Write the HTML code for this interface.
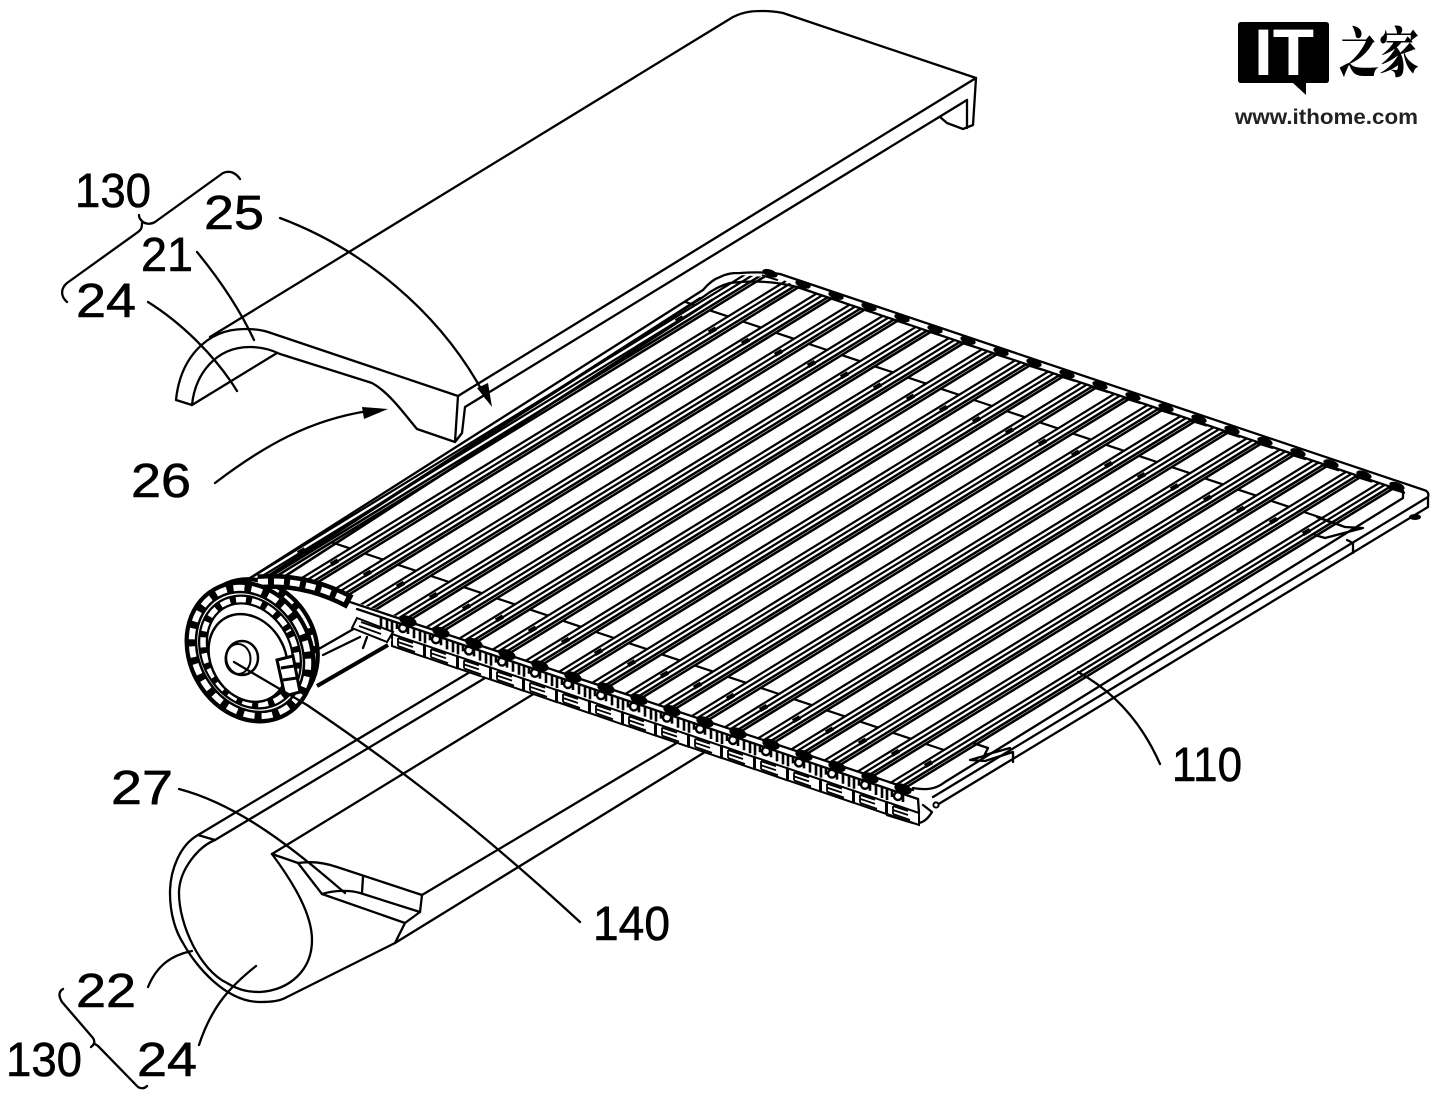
<!DOCTYPE html>
<html><head><meta charset="utf-8"><style>
html,body{margin:0;padding:0;background:#fff}
svg{display:block}
.l{fill:none;stroke:#000;stroke-width:2.3;stroke-linejoin:round;stroke-linecap:round}
.t{font-family:"Liberation Sans",sans-serif;font-size:48px;fill:#000;stroke:#000;stroke-width:.6}
</style></head><body>
<svg width="1440" height="1100" viewBox="0 0 1440 1100" xmlns="http://www.w3.org/2000/svg">
<defs>
<clipPath id="pc"><polygon points="250,578 703,290 720,278 740,275 780,278 797,287 1400,490 906,789 287,579"/></clipPath>
<g id="s">
<path d="M880.25,789.13L1408.25,465.13" fill="none" stroke="#000" stroke-width="2.2"/>
<path d="M882.6,792.96L1410.6,468.96" fill="none" stroke="#000" stroke-width="2.2"/>
<path d="M884.95,796.8L1412.95,472.8" fill="none" stroke="#000" stroke-width="2.5"/>
<path d="M886.5,799.35L1414.5,475.35" fill="none" stroke="#000" stroke-width="2.5"/>
<path d="M1304,512L1322,518M926,744L944,750" fill="none" stroke="#000" stroke-width="2.2"/>
<path d="M1303,534L1310,530M925,766L932,762" fill="none" stroke="#000" stroke-width="4.5"/>
</g>
<g id="n">
<ellipse cx="1397" cy="486" rx="8" ry="3.6" transform="rotate(19 1397 486)" fill="#000"/>
<path d="M1389,488L1405,493" stroke="#000" stroke-width="2" fill="none"/>
</g>
<g id="m">
<ellipse cx="903" cy="789" rx="9" ry="5" transform="rotate(19 903 789)" fill="#000"/>
<polygon points="887,802 919,813 919,825 887,814" fill="#fff" stroke="#000" stroke-width="2"/>
<path d="M893,806L908,811M893,806L893,814M893,810L908,815M893,814L910,820" fill="none" stroke="#000" stroke-width="1.8"/>
<circle cx="898" cy="796" r="4" fill="none" stroke="#000" stroke-width="2.4"/>
<path d="M903,790V802M882,787V798M887,789V800M876,785V795M892,790V797" fill="none" stroke="#000" stroke-width="2.6"/>
</g>
</defs>
<rect width="1440" height="1100" fill="#fff"/>

<!-- lower tube -->
<g class="l">
<path d="M475,669L198,835C180,845 170,870 170,893C170,915 176,932 183,943C195,965 225,1002 260,1002C272,1002 280,1001 287,997L395,943L705,752"/>
<path d="M490,675L215,840C198,847 179,870 179,893C179,925 200,970 227,983C240,991 250,992 260,992C290,990 312,970 312,940C312,915 295,885 272,854"/>
<path d="M198,835L215,840"/>
<path d="M272,854L540,690"/>
<path d="M272,854L298,863C305,862 320,861 337,867L422,895L420,912L405,923L395,943"/>
<path d="M298,863L322,894L405,923"/>
<path d="M322,894C335,890 350,890 360,893L420,912"/>
<path d="M363,877L362,893"/>
<path d="M422,895L690,735"/>
</g>

<!-- upper cover -->
<g class="l">
<path d="M176,400C180,360 205,329 245,329C255,329 262,330 268,332L458,396L455,442L417,429C405,415 390,393 372,383L280,354C272,350 262,347 250,347C215,347 195,375 192,405L176,400"/>
<path d="M192,405L277,353"/>
<path d="M210,337L733,17C745,11 755,11 763,11C772,11 778,12 783,13L976,78L973,125L963,129L947,123L940,117"/>
<path d="M976,78L458,396"/>
<path d="M967,100L465,407L462,433L455,442"/>
<path d="M967,100L967,128"/>
</g>

<!-- panel background -->
<polygon points="250,578 703,290 720,277 740,273 780,274 1428,492 1428,507 937,805 925,822 913,823 393,647 315,690 240,640" fill="#fff"/>

<!-- slats -->
<g clip-path="url(#pc)">
<use href="#s"/>
<use href="#s" transform="translate(-33,-11.2)"/>
<use href="#s" transform="translate(-66,-22.4)"/>
<use href="#s" transform="translate(-99,-33.6)"/>
<use href="#s" transform="translate(-132,-44.8)"/>
<use href="#s" transform="translate(-165,-56)"/>
<use href="#s" transform="translate(-198,-67.2)"/>
<use href="#s" transform="translate(-231,-78.4)"/>
<use href="#s" transform="translate(-264,-89.6)"/>
<use href="#s" transform="translate(-297,-100.8)"/>
<use href="#s" transform="translate(-330,-112)"/>
<use href="#s" transform="translate(-363,-123.2)"/>
<use href="#s" transform="translate(-396,-134.4)"/>
<use href="#s" transform="translate(-429,-145.6)"/>
<use href="#s" transform="translate(-462,-156.8)"/>
<use href="#s" transform="translate(-495,-168)"/>
<use href="#s" transform="translate(-528,-179.2)"/>
<use href="#s" transform="translate(-561,-190.4)"/>
<use href="#s" transform="translate(-594,-201.6)"/>
<use href="#s" transform="translate(-627,-212.8)"/>
</g>

<!-- back rail and left edge -->
<g class="l">
<path d="M250,578L703,290C708,284 714,279 720,277C728,273 734,273 740,273C755,272 768,272 780,274L1424,490C1428,491 1429,494 1428,497L1428,507L937,805"/>
<path d="M268,577L703,297C712,290 722,285 730,283C745,281 770,280 797,287L1403,491"/>
<path d="M258,582L700,298" stroke-width="2"/>
<path d="M276,582L712,300" stroke-width="2.6"/>
<path d="M1403,491L1403,498L945,782C935,790 925,790 913,788"/>
<path d="M933,797L1428,497"/>
</g>
<use href="#n"/>
<use href="#n" transform="translate(-33,-11.2)"/>
<use href="#n" transform="translate(-66,-22.4)"/>
<use href="#n" transform="translate(-99,-33.6)"/>
<use href="#n" transform="translate(-132,-44.8)"/>
<use href="#n" transform="translate(-165,-56)"/>
<use href="#n" transform="translate(-198,-67.2)"/>
<use href="#n" transform="translate(-231,-78.4)"/>
<use href="#n" transform="translate(-264,-89.6)"/>
<use href="#n" transform="translate(-297,-100.8)"/>
<use href="#n" transform="translate(-330,-112)"/>
<use href="#n" transform="translate(-363,-123.2)"/>
<use href="#n" transform="translate(-396,-134.4)"/>
<use href="#n" transform="translate(-429,-145.6)"/>
<use href="#n" transform="translate(-462,-156.8)"/>
<use href="#n" transform="translate(-495,-168)"/>
<use href="#n" transform="translate(-528,-179.2)"/>
<use href="#n" transform="translate(-561,-190.4)"/>
<use href="#n" transform="translate(-594,-201.6)"/>
<use href="#n" transform="translate(-627,-212.8)"/>

<!-- side joints -->
<g class="l" stroke-width="2">
<path d="M973,743L988,748L984,756L970,760L985,761L1013,752L1013,762"/>
<path d="M985,755L1010,748"/>
<path d="M1315,535L1325,538L1363,528L1345,527L1317,517L1330,522"/>
<path d="M1347,540L1353,543L1353,553"/>
</g>
<ellipse cx="1415" cy="517" rx="6" ry="3" fill="#000"/>

<!-- front rail -->
<g class="l"><path d="M287,581L913,790"/><path d="M357,609L918,799"/><path d="M918,799L919,813"/>
<path d="M887,815L913,823C920,824 926,822 932,812L923,805"/></g>
<use href="#m"/>
<use href="#m" transform="translate(-33,-11.2)"/>
<use href="#m" transform="translate(-66,-22.4)"/>
<use href="#m" transform="translate(-99,-33.6)"/>
<use href="#m" transform="translate(-132,-44.8)"/>
<use href="#m" transform="translate(-165,-56)"/>
<use href="#m" transform="translate(-198,-67.2)"/>
<use href="#m" transform="translate(-231,-78.4)"/>
<use href="#m" transform="translate(-264,-89.6)"/>
<use href="#m" transform="translate(-297,-100.8)"/>
<use href="#m" transform="translate(-330,-112)"/>
<use href="#m" transform="translate(-363,-123.2)"/>
<use href="#m" transform="translate(-396,-134.4)"/>
<use href="#m" transform="translate(-429,-145.6)"/>
<use href="#m" transform="translate(-462,-156.8)"/>
<use href="#m" transform="translate(-495,-168)"/>
<circle cx="936" cy="805" r="2.6" fill="#fff" stroke="#000" stroke-width="2"/>

<!-- roll interior -->
<polygon points="310,600 360,615 392,640 316,690" fill="#fff"/>
<path d="M317,686L388,645" stroke="#000" stroke-width="4" fill="none"/>
<path class="l" d="M317,650L357,627M323,655L360,637M363,648L367,637"/>
<polygon points="357,618 393,632 387,642 352,628" fill="#fff" stroke="#000" stroke-width="2"/>
<path d="M361,622L381,629M359,626L381,634" stroke="#000" stroke-width="1.8" fill="none"/>

<!-- roll rings -->
<g transform="translate(256,646) rotate(-30)">
<ellipse rx="60" ry="70" fill="#fff" stroke="#000" stroke-width="2.5"/>
<ellipse rx="54" ry="64" fill="none" stroke="#000" stroke-width="11"/>
<ellipse rx="54" ry="64" fill="none" stroke="#fff" stroke-width="6" stroke-dasharray="11 7"/>
</g>
<path d="M258,582Q305,578 350,602" fill="none" stroke="#000" stroke-width="15"/>
<path d="M258,582Q305,578 350,602" fill="none" stroke="#fff" stroke-width="6" stroke-dasharray="10 6"/>
<g transform="translate(250,652) rotate(-30)">
<ellipse rx="61" ry="73" fill="#fff" stroke="#000" stroke-width="2.5"/>
<ellipse rx="55" ry="67" fill="none" stroke="#000" stroke-width="11"/>
<ellipse rx="55" ry="67" fill="none" stroke="#fff" stroke-width="6" stroke-dasharray="11 7"/>
<ellipse rx="44" ry="55" fill="none" stroke="#000" stroke-width="10"/>
<ellipse rx="44" ry="55" fill="none" stroke="#fff" stroke-width="5.5" stroke-dasharray="10 6" stroke-dashoffset="8"/>
</g>
<ellipse cx="248" cy="658" rx="37" ry="46" transform="rotate(-30 248 658)" fill="#fff" stroke="#000" stroke-width="2.5"/>
<path d="M277,660L293,656L300,692L285,696Z" fill="#fff" stroke="#000" stroke-width="3"/>
<path d="M281,668L294,666M283,680L297,678" stroke="#000" stroke-width="3" fill="none"/>
<ellipse cx="242" cy="658" rx="16" ry="17" fill="#fff" stroke="#000" stroke-width="2.5"/>
<ellipse cx="238" cy="659" rx="12.5" ry="15" fill="none" stroke="#000" stroke-width="2"/>

<!-- leaders -->
<g class="l">
<path d="M234,662L307,705C400,768 480,830 580,922"/>
<path d="M280,218C360,248 440,310 486,398"/>
<path d="M197,252C220,280 240,310 254,340"/>
<path d="M148,302C180,322 215,355 237,391"/>
<path d="M215,483C265,445 310,420 368,411"/>
<path d="M179,789C240,805 295,850 345,893"/>
<path d="M148,987C157,965 172,955 192,951"/>
<path d="M199,1045C212,1005 232,985 256,966"/>
<path d="M1078,672C1120,695 1145,730 1160,764"/>
<path d="M240,179C236,173 230,170 223,173L155,222C150,225 144,224 141,220C139,218 139,216 139,215M142,223C142,228 141,230 138,232L67,283C61,288 60,296 67,302"/>
<path d="M63,989C58,992 59,997 62,1002L93,1038C95,1041 95,1044 91,1047M95,1044C96,1045 97,1045 98,1046L137,1086C140,1089 144,1089 147,1086"/>
</g>
<polygon points="492,407 477,388 488,383" fill="#000"/>
<polygon points="388,409 362,407 364,419" fill="#000"/>

<!-- labels -->
<text class="t" x="75" y="207" textLength="76" lengthAdjust="spacingAndGlyphs">130</text>
<text class="t" x="204" y="229" textLength="60" lengthAdjust="spacingAndGlyphs">25</text>
<text class="t" x="141" y="271" textLength="52" lengthAdjust="spacingAndGlyphs">21</text>
<text class="t" x="76" y="317" textLength="60" lengthAdjust="spacingAndGlyphs">24</text>
<text class="t" x="131" y="497" textLength="60" lengthAdjust="spacingAndGlyphs">26</text>
<text class="t" x="111" y="804" textLength="62" lengthAdjust="spacingAndGlyphs">27</text>
<text class="t" x="1172" y="781" textLength="70" lengthAdjust="spacingAndGlyphs">110</text>
<text class="t" x="593" y="940" textLength="77" lengthAdjust="spacingAndGlyphs">140</text>
<text class="t" x="76" y="1007" textLength="60" lengthAdjust="spacingAndGlyphs">22</text>
<text class="t" x="6" y="1076" textLength="76" lengthAdjust="spacingAndGlyphs">130</text>
<text class="t" x="137" y="1076" textLength="60" lengthAdjust="spacingAndGlyphs">24</text>

<!-- logo -->
<path d="M1241,22H1326Q1329,22 1329,25V80Q1329,83 1326,83H1306L1306,95L1293,83H1241Q1238,83 1238,80V25Q1238,22 1241,22Z" fill="#000"/>
<text x="1254" y="75" textLength="60" lengthAdjust="spacingAndGlyphs" style="font-family:'Liberation Sans',sans-serif;font-weight:700;font-size:66px;fill:#fff">IT</text>
<text x="0" y="0" transform="translate(1339,72) scale(1,1.35)" style="font-family:'Liberation Serif','Noto Serif CJK SC',serif;font-weight:900;font-size:40px;fill:#000">之家</text>
<text x="1235" y="124" textLength="183" lengthAdjust="spacingAndGlyphs" style="font-family:'Liberation Sans',sans-serif;font-weight:700;font-size:21px;fill:#222">www.ithome.com</text>
</svg>
</body></html>
